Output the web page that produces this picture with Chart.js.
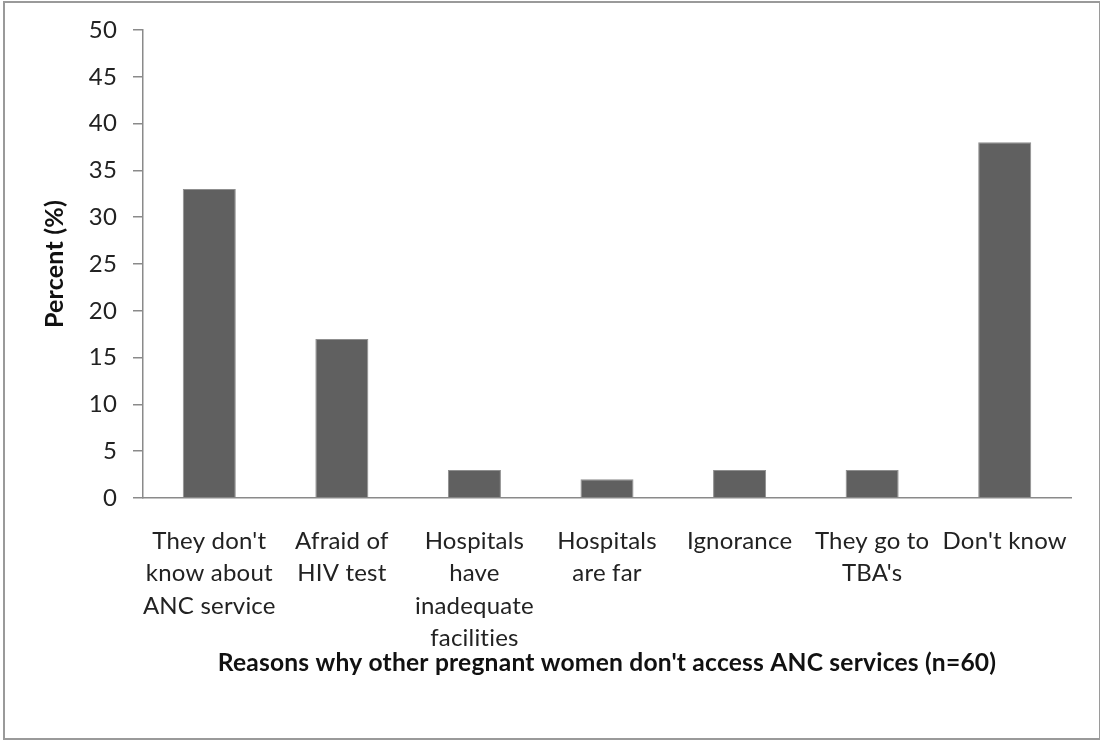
<!DOCTYPE html>
<html>
<head>
<meta charset="utf-8">
<script src="https://cdn.jsdelivr.net/npm/chart.js@4/dist/chart.umd.min.js"></script>
<style>
  body { margin: 0; background: #fff; }
  #frame {
    position: absolute; left: 3px; top: 1px;
    width: 1094px; height: 735px;
    border: 2px solid #9a9a9a;
  }
</style>
</head>
<body>
<div id="frame"><canvas id="reasonsChart" width="1094" height="735"></canvas></div>
<script>
// reasons given, one label per bar (multi-line)
var reasons = [
    ["They don't", "know about", "ANC service"],
    ["Afraid of", "HIV test"],
    ["Hospitals", "have", "inadequate", "facilities"],
    ["Hospitals", "are far"],
    "Ignorance",
    ["They go to", "TBA's"],
    "Don't know"
];
var percents = [33, 17, 3, 2, 3, 3, 38];
var yMin = 0;
var yMax = 50;
var yStep = 5;

var axisColor = '#8a8a8a';
var textFont = "Lato, 'Open Sans', sans-serif";

// a touch of letter spacing keeps Lato from joining "ti" into a ligature
var noLigatures = {
    id: 'noLigatures',
    beforeDraw: function (chart) {
        chart.ctx.letterSpacing = '0.2px';
    }
};

var reasonsChart = new Chart(document.getElementById('reasonsChart'), {
    type: 'bar',
    data: {
        labels: reasons,
        datasets: [{
            label: 'Percent',
            data: percents,
            backgroundColor: '#606060',
            borderColor: '#8f8f8f',
            borderWidth: 1,
            categoryPercentage: 1,
            barPercentage: 0.4
        }]
    },
    options: {
        responsive: false,
        animation: false,
        layout: {
            padding: { left: 0, right: 28, top: 27, bottom: 0 }
        },
        plugins: {
            legend: { display: false },
            tooltip: { enabled: false }
        },
        scales: {
            x: {
                grid: { display: false, drawTicks: false },
                border: { color: axisColor, width: 1.5 },
                ticks: {
                    color: '#222',
                    font: { family: textFont, size: 24, lineHeight: 1.35 },
                    padding: 27,
                    autoSkip: false,
                    minRotation: 0,
                    maxRotation: 0
                },
                title: {
                    display: true,
                    text: "Reasons why other pregnant women don't access ANC services (n=60)",
                    color: '#111',
                    font: { family: textFont, size: 24.6, weight: 'bold' },
                    padding: { top: 0, bottom: 60 }
                },
                afterFit: function (scale) { scale.height = 240; }
            },
            y: {
                min: yMin,
                max: yMax,
                grid: {
                    drawOnChartArea: false,
                    drawTicks: true,
                    tickLength: 10,
                    color: axisColor,
                    lineWidth: 1.5
                },
                border: { color: axisColor, width: 1.5 },
                ticks: {
                    stepSize: yStep,
                    color: '#222',
                    padding: 16,
                    font: { family: textFont, size: 24 }
                },
                title: {
                    display: true,
                    text: 'Percent (%)',
                    color: '#111',
                    font: { family: textFont, size: 25, weight: 'bold' },
                    padding: { top: 35, bottom: 0 }
                },
                afterFit: function (scale) {
                    scale.width = 138;
                    scale.paddingTop = 10;
                }
            }
        }
    },
    plugins: [noLigatures]
});
</script>
</body>
</html>
